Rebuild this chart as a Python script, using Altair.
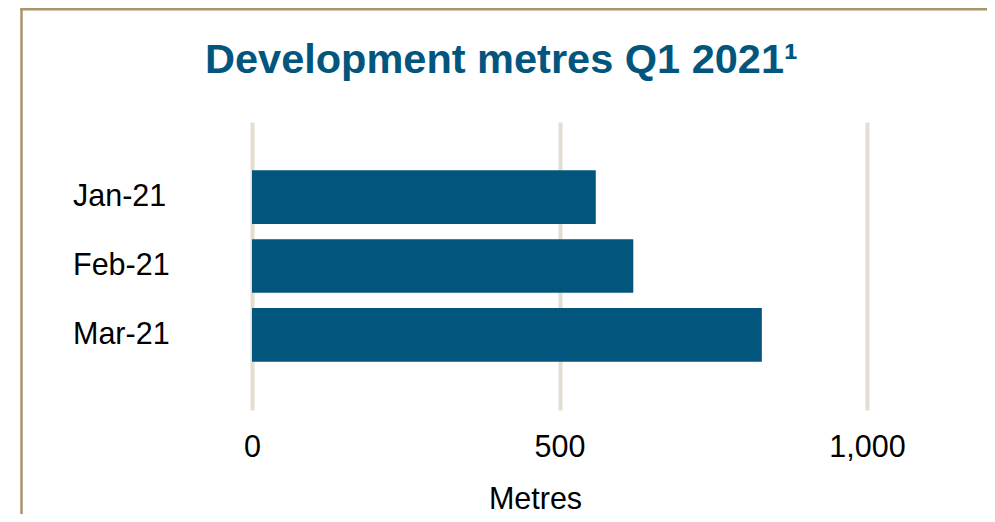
import altair as alt
import pandas as pd

months = ["Jan-21", "Feb-21", "Mar-21"]
metres = [559, 620, 829]
x_ticks = [0, 500, 1000]

df = pd.DataFrame({"month": months, "metres": metres})

BLUE = "#02567E"
FONT = "Liberation Sans"

bars = alt.Chart(df).mark_bar(color=BLUE).encode(
    y=alt.Y(
        "month:N",
        sort=months,
        scale=alt.Scale(paddingInner=0.22, paddingOuter=0.7),
        axis=alt.Axis(
            title=None, domain=False, ticks=False, grid=False,
            labelAlign="left", labelPadding=179.5, labelFontSize=30.5,
            labelColor="#000000", labelFont=FONT,
        ),
    ),
    x=alt.X(
        "metres:Q",
        scale=alt.Scale(domain=[0, 1000], nice=False),
        axis=alt.Axis(
            values=x_ticks, format=",d", title="Metres",
            domain=False, ticks=False, grid=True,
            gridColor="#E4DED1", gridWidth=4,
            labelFontSize=30.5, labelColor="#000000", labelFont=FONT,
            labelBaseline="alphabetic", labelPadding=46.5, labelFlush=False,
            titleFontSize=30.5, titleFontWeight="normal", titleColor="#000000",
            titleFont=FONT, titleBaseline="alphabetic", titleY=98.5,
            titleX=283, titleAlign="center",
        ),
    ),
)

border_src = alt.Data(values=[{"k": 1}])
left_border = alt.Chart(border_src).mark_rule(
    color="#A8966A", strokeWidth=2.5
).encode(x=alt.value(-230.5), y=alt.value(-114), y2=alt.value(420))
top_border = alt.Chart(border_src).mark_rule(
    color="#A8966A", strokeWidth=2.5
).encode(x=alt.value(-231.75), x2=alt.value(760), y=alt.value(-112.75))

chart = alt.layer(bars, left_border, top_border).properties(
    width=615,
    height=288,
    view=alt.ViewBackground(stroke="transparent", strokeWidth=0),
    autosize=alt.AutoSizeParams(type="none"),
    padding={"left": 244, "top": 114, "right": 120, "bottom": 104},
    title=alt.Title(
        "Development metres Q1 2021\u00b9",
        anchor="start", frame="group", dx=-47, offset=-108,
        baseline="alphabetic", fontSize=41.5, fontWeight="bold",
        color=BLUE, font=FONT,
    ),
).configure_view(strokeWidth=0, stroke="transparent").configure(background="white")

chart.save("out.html", embed_options={"renderer": "svg", "actions": False})
